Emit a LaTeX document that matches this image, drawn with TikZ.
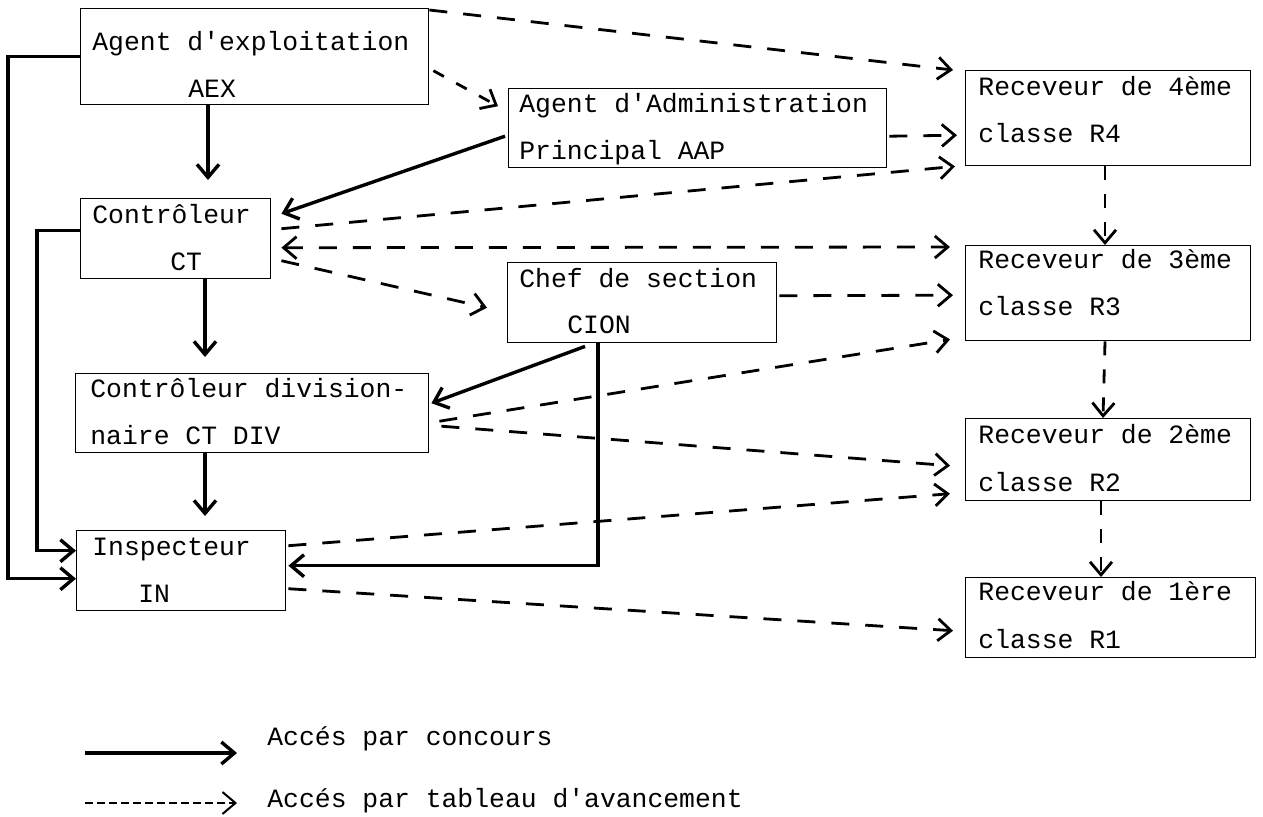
\documentclass[tikz,border=0pt]{standalone}
\usepackage{fontspec}
\setmonofont{Liberation Mono}
\usetikzlibrary{arrows.meta,calc}
\begin{document}
\begin{tikzpicture}[x=0.5pt,y=-0.5pt,
  box/.style={draw, line width=0.7pt, inner sep=0pt, anchor=north west},
  lbl/.style={anchor=base west, inner sep=0pt, font=\ttfamily\fontsize{13.2}{16}\selectfont},
  tip/.style={-{Straight Barb[length=6.5pt,width=11pt]}},
  conc/.style={line width=1.7pt, tip},
  avan/.style={line width=1.4pt, dash pattern=on 9pt off 8pt, tip},
  avanv/.style={line width=1.4pt, dash pattern=on 7pt off 7pt, tip}]
\useasboundingbox (0,0) rectangle (1263,816);

% boxes
\node[box, minimum width=174pt, minimum height=48pt] (aex) at (80,8) {};
\node[box, minimum width=95pt, minimum height=40pt] (ct) at (80,198) {};
\node[box, minimum width=189pt, minimum height=39.5pt] (aap) at (508,88) {};
\node[box, minimum width=134.5pt, minimum height=40pt] (cion) at (507,262) {};
\node[box, minimum width=176.5pt, minimum height=39.5pt] (cdiv) at (75,373) {};
\node[box, minimum width=104.5pt, minimum height=40pt] (in) at (76,530) {};
\node[box, minimum width=142.5pt, minimum height=47.5pt] (r4) at (965,70) {};
\node[box, minimum width=142.5pt, minimum height=47.5pt] (r3) at (965,245) {};
\node[box, minimum width=142.5pt, minimum height=41pt] (r2) at (965,418) {};
\node[box, minimum width=145pt, minimum height=40pt] (r1) at (965,577) {};

% texts
\node[lbl] (aext1) at (92,50) {Agent d'exploitation};
\node[lbl] (aext2) at (188,97) {AEX};
\node[lbl] (ctt1) at (92,223) {Contrôleur};
\node[lbl] (ctt2) at (170,270) {CT};
\node[lbl] (aapt1) at (519,112) {Agent d'Administration};
\node[lbl] (aapt2) at (519,159) {Principal AAP};
\node[lbl] (ciont1) at (519,287) {Chef de section};
\node[lbl] (ciont2) at (567,333) {CION};
\node[lbl] (cdivt1) at (90,397) {Contrôleur division-};
\node[lbl] (cdivt2) at (90,444) {naire CT DIV};
\node[lbl] (int1) at (92,555) {Inspecteur};
\node[lbl] (int2) at (138,602) {IN};
\node[lbl] (r4t1) at (978,95) {Receveur de 4ème};
\node[lbl] (r4t2) at (978,142) {classe R4};
\node[lbl] (r3t1) at (978,268) {Receveur de 3ème};
\node[lbl] (r3t2) at (978,315) {classe R3};
\node[lbl] (r2t1) at (978,443) {Receveur de 2ème};
\node[lbl] (r2t2) at (978,491) {classe R2};
\node[lbl] (r1t1) at (978,600) {Receveur de 1ère};
\node[lbl] (r1t2) at (978,648) {classe R1};

% solid connectors (concours)
\draw[conc, shorten >=9pt] ($(aex.south west)+(128,0)$) -- ($(ct.north west)+(128,0)$);
\draw[conc] (aex.west) -- ++(-72,0) |- ($(in.west)+(0,8)$);
\draw[conc] ($(ct.west)+(0,-8)$) -- ++(-43,0) |- ($(in.west)+(0,-20)$);
\draw[conc, shorten >=8pt] ($(ct.south west)+(125,0)$) -- ($(cdiv.north west)+(130,0)$);
\draw[conc, shorten >=7pt] ($(cdiv.south west)+(130,0)$) -- ($(in.north west)+(129,0)$);
\draw[conc] ($(aap.west)+(-3,8)$) -- ($(ct.east)+(10,-25)$);
\draw[conc] ($(cion.south west)+(78,3)$) -- ($(cdiv.east)+(2,-10)$);
\draw[conc] ($(cion.south west)+(91,0)$) |- ($(in.east)+(2,-5)$);

% dashed connectors (tableau d'avancement)
\draw[avan] ($(aex.north east)+(0,2)$) -- ($(r4.north west)+(-12,0)$);
\draw[avan, dash pattern=on 6pt off 7pt] ($(aex.east)+(4,14)$) -- ($(aap.west)+(-10,-22)$);
\draw[avan] ($(aap.east)+(2,8)$) -- ($(r4.west)+(-8,17)$);
\draw[avan] ($(ct.east)+(10,-10)$) -- ($(r4.south west)+(-10,0)$);
\draw[avan, {Straight Barb[length=6.5pt,width=11pt]}-{Straight Barb[length=6.5pt,width=11pt]}] ($(ct.east)+(10,9)$) -- ($(r3.north west)+(-15,2)$);
\draw[avan] ($(ct.east)+(10,22)$) -- ($(cion.west)+(-20,5)$);
\draw[avan] ($(cion.east)+(2,-7)$) -- ($(r3.west)+(-12,2)$);
\draw[avan] ($(cdiv.east)+(10,8)$) -- ($(r3.south west)+(-15,-2)$);
\draw[avan] ($(cdiv.east)+(12,13)$) -- ($(r2.west)+(-15,6)$);
\draw[avan] ($(in.east)+(2,-25)$) -- ($(r2.west)+(-15,34)$);
\draw[avan] ($(in.east)+(2,18)$) -- ($(r1.west)+(-12,13)$);
\draw[avanv] ($(r4.south west)+(140,0)$) -- ($(r3.north west)+(140,0)$);
\draw[avanv] ($(r3.south west)+(140,0)$) -- ($(r2.north west)+(138,0)$);
\draw[avanv] ($(r2.south west)+(136,0)$) -- ($(r1.north west)+(136,0)$);

% legend
\coordinate (l1a) at (85,753);
\coordinate (l1b) at (237,753);
\coordinate (l2a) at (85,803);
\coordinate (l2b) at (237,803);
\draw[conc] (l1a) -- (l1b);
\draw[line width=1pt, dash pattern=on 4pt off 2pt, tip] (l2a) -- (l2b);
\node[lbl] (leg1) at (267,745) {Accés par concours};
\node[lbl] (leg2) at (267,807) {Accés par tableau d'avancement};
\end{tikzpicture}
\end{document}
